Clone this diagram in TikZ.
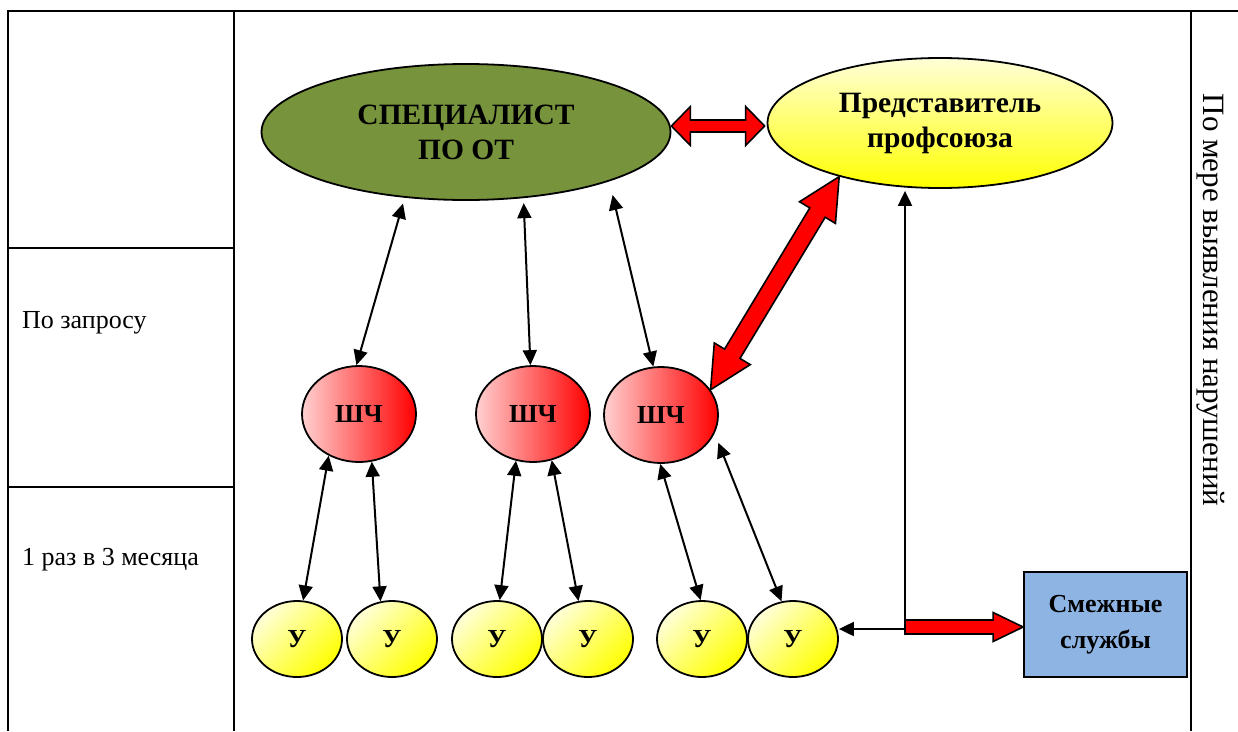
\documentclass[tikz,border=0pt]{standalone}
\usepackage{fontspec}
\setmainfont{Liberation Serif}
\usetikzlibrary{shapes.geometric,arrows.meta,calc}

\definecolor{specgreen}{HTML}{77933C}
\definecolor{boxblue}{HTML}{8EB4E3}
\definecolor{pinklight}{HTML}{FFD0D0}
\definecolor{yellowlight}{HTML}{FFFFD8}

% double block arrow: from, to, shaft half-width, head half-width, head length
\newcommand{\dblblock}[5]{%
 \filldraw[blockred] (#1)
 -- ($($(#1)!#5!(#2)$)!#4!90:(#2)$)
 -- ($($(#1)!#5!(#2)$)!#3!90:(#2)$)
 -- ($($(#2)!#5!(#1)$)!#3!-90:(#1)$)
 -- ($($(#2)!#5!(#1)$)!#4!-90:(#1)$)
 -- (#2)
 -- ($($(#2)!#5!(#1)$)!#4!90:(#1)$)
 -- ($($(#2)!#5!(#1)$)!#3!90:(#1)$)
 -- ($($(#1)!#5!(#2)$)!#3!-90:(#2)$)
 -- ($($(#1)!#5!(#2)$)!#4!-90:(#2)$)
 -- cycle;}
% single block arrow
\newcommand{\sglblock}[5]{%
 \filldraw[blockred] ($(#1)!#3!90:(#2)$)
 -- ($($(#2)!#5!(#1)$)!#3!-90:(#1)$)
 -- ($($(#2)!#5!(#1)$)!#4!-90:(#1)$)
 -- (#2)
 -- ($($(#2)!#5!(#1)$)!#4!90:(#1)$)
 -- ($($(#2)!#5!(#1)$)!#3!90:(#1)$)
 -- ($(#1)!#3!-90:(#2)$)
 -- cycle;}

\tikzset{
 tbl/.style={line width=2.6pt},
 blockred/.style={fill=red, draw=black, line width=1.6pt, line join=miter},
 bold big/.style={font=\fontsize{29.5}{35}\selectfont\bfseries},
 bigell/.style={ellipse, draw, line width=1.8pt, inner sep=0pt, align=center, bold big},
 shch/.style={ellipse, draw, line width=1.8pt, inner sep=0pt, minimum width=114pt, minimum height=96pt,
   left color=pinklight, right color=red, font=\fontsize{26}{30}\selectfont\bfseries},
 yu/.style={ellipse, draw, line width=1.8pt, inner sep=0pt, minimum width=90pt, minimum height=76pt,
   top color=yellowlight, bottom color=yellow, shading angle=45, font=\fontsize{26}{30}\selectfont\bfseries},
 barrow/.style={{Triangle[length=15pt,width=14pt]}-{Triangle[length=15pt,width=14pt]}, line width=2pt},
 sarrow/.style={-{Triangle[length=15pt,width=14pt]}, line width=2pt},
 lbl/.style={font=\fontsize{26}{30}\selectfont, anchor=base west, inner sep=0pt},
}

\begin{document}
\begin{tikzpicture}[x=1pt,y=-1pt]
\useasboundingbox (0,0) rectangle (1238,731);

% table
\draw[tbl] (8,731) -- (8,11) -- (1238,11);
\draw[tbl] (234,11) -- (234,731);
\draw[tbl] (1191,11) -- (1191,731);
\draw[tbl] (8,248) -- (234,248);
\draw[tbl] (8,487) -- (234,487);

\node[lbl] (t1) at (22,328) {По запросу};
\node[lbl] (t2) at (22,565) {1 раз в 3 месяца};
\node[font=\fontsize{31}{36}\selectfont, rotate=-90, inner sep=0pt] (t3) at (1211,300) {По мере выявления нарушений};

% main nodes
\node[bigell, fill=specgreen, minimum width=409pt, minimum height=136pt] (spec) at (466,132) {СПЕЦИАЛИСТ\\ПО ОТ};
\node[bigell, top color=yellowlight, bottom color=yellow, minimum width=345pt, minimum height=130pt] (rep) at (940,123) {Представитель\\профсоюза};

\node[shch] (c1) at (359,414) {ШЧ};
\node[shch] (c2) at (533,414) {ШЧ};
\node[shch] (c3) at (661,415) {ШЧ};

\node[yu] (y1) at (297,639) {У};
\node[yu] (y2) at (392,639) {У};
\node[yu] (y3) at (497,639) {У};
\node[yu] (y4) at (588,639) {У};
\node[yu] (y5) at (702,639) {У};
\node[yu] (y6) at (793,639) {У};

\node[draw, line width=1.8pt, fill=boxblue, minimum width=163pt, minimum height=105pt, align=center,
  font=\fontsize{26}{36}\selectfont\bfseries, inner sep=0pt] (box) at (1105.5,624.5) {Смежные\\службы};

% black arrows spec <-> ШЧ
\draw[barrow, shorten <=6pt] (spec.-133) -- (c1.93);
\draw[barrow, shorten <=5pt] (spec.-49) -- (c2.93);
\draw[barrow, shorten <=14pt] (spec.-19) -- (c3.99);

% ШЧ <-> У
\draw[barrow] (c1.-126) -- (y1.81);
\draw[barrow] (c1.-75) -- (y2.107);
\draw[barrow] (c2.-110) -- (y3.86);
\draw[barrow] (c2.-68) -- (y4.104);
\draw[barrow] (c3.-91) -- (y5.92);
\draw[barrow, shorten <=10pt] (c3.-19) -- (y6.107);

% red block arrows
\coordinate (h126) at (0,126);
\coordinate (ra1) at (spec.east |- h126);
\coordinate (ra2) at ($(rep.west |- h126)+(-2,0)$);
\dblblock{ra1}{ra2}{6pt}{19.5pt}{19pt}
\dblblock{rep.-152}{c3.27}{9pt}{21pt}{42pt}

% junction lines
\coordinate (j) at (905,629);
\draw[sarrow, shorten >=2pt] (j) -- (j |- rep.south);
\draw[sarrow] (j) -- (j -| y6.east);
\coordinate (jr) at (905,627);
\sglblock{jr}{jr -| box.west}{7pt}{14.5pt}{30pt}
\end{tikzpicture}
\end{document}
